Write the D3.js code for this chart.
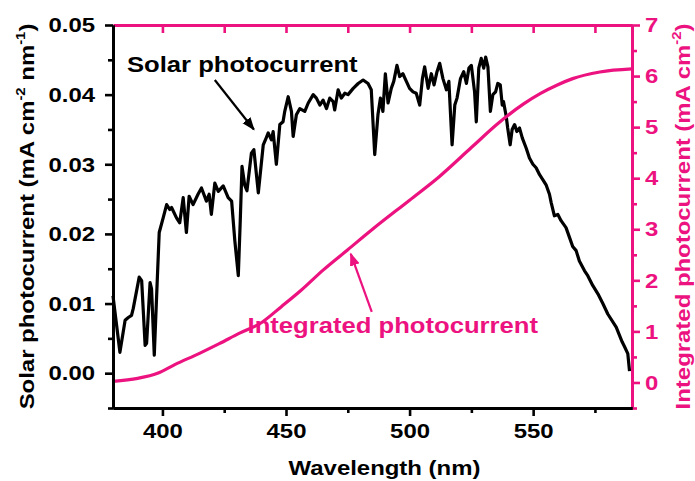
<!DOCTYPE html>
<html>
<head>
<meta charset="utf-8">
<script src="https://cdn.jsdelivr.net/npm/d3@7/dist/d3.min.js"></script>
<style>
  html, body { margin: 0; padding: 0; background: #fff; }
  svg { display: block; font-family: "Liberation Sans", Arial, sans-serif; font-weight: bold; }
</style>
</head>
<body>
<svg id="chart" width="695" height="481"></svg>
<script>
// Solar photocurrent spectrum (mA cm^-2 nm^-1) vs wavelength (nm)
const wavelength = [
  380.0, 382.8, 384.9, 386.2, 387.5, 388.2, 390.6, 391.6, 393.0, 393.6,
  395.0, 395.6, 396.7, 397.9, 398.7, 400.3, 401.7, 403.0, 403.7, 405.7,
  407.0, 408.4, 409.7, 410.8, 412.4, 414.4, 415.8, 417.8, 418.9, 419.8,
  421.2, 422.6, 424.6, 426.6, 428.0, 429.3, 430.7, 431.5, 432.2, 433.3,
  434.2, 436.0, 437.0, 438.8, 440.8, 442.0, 442.8, 444.1, 444.8, 446.1,
  447.5, 448.8, 449.5, 450.9, 452.2, 452.9, 454.2, 455.6, 457.6, 459.0,
  461.0, 462.3, 463.7, 465.0, 466.4, 467.7, 469.1, 469.7, 471.1, 472.4,
  473.8, 475.1, 477.2, 479.2, 481.2, 483.2, 484.5, 485.9, 487.2, 488.2,
  489.2, 490.2, 491.3, 492.6, 493.6, 494.9, 496.0, 497.3, 498.7, 500.0,
  501.4, 502.7, 504.1, 505.2, 506.1, 507.5, 508.8, 509.9, 511.1, 512.2,
  513.5, 514.9, 515.9, 517.2, 518.3, 519.2, 520.6, 521.9, 523.0, 524.0,
  525.0, 526.3, 527.0, 528.0, 529.0, 530.0, 530.8, 531.7, 532.7, 533.7,
  534.8, 535.7, 536.7, 537.5, 538.0, 539.1, 539.7, 540.7, 541.5, 542.5,
  543.4, 544.5, 545.6, 547.2, 548.5, 549.9, 551.2, 552.6, 553.9, 555.3,
  556.6, 557.3, 558.6, 560.0, 561.3, 563.3, 564.7, 566.0, 567.4, 568.7,
  570.8, 572.1, 574.1, 576.2, 578.2, 580.2, 583.6, 586.0, 587.0, 588.3,
  589.0
];
const solarCurrent = [
  0.0111, 0.0030, 0.0076, 0.0080, 0.0083, 0.0093, 0.0138, 0.0133, 0.0040, 0.0043,
  0.0130, 0.0121, 0.0026, 0.0133, 0.0202, 0.0223, 0.0242, 0.0235, 0.0238, 0.0223,
  0.0216, 0.0252, 0.0202, 0.0254, 0.0242, 0.0257, 0.0266, 0.0247, 0.0257, 0.0228,
  0.0273, 0.0261, 0.0269, 0.0252, 0.0247, 0.0190, 0.0140, 0.0220, 0.0297, 0.0270,
  0.0262, 0.0316, 0.0321, 0.0259, 0.0328, 0.0338, 0.0345, 0.0335, 0.0347, 0.0300,
  0.0357, 0.0361, 0.0376, 0.0397, 0.0376, 0.0340, 0.0371, 0.0380, 0.0376, 0.0388,
  0.0400, 0.0395, 0.0385, 0.0392, 0.0380, 0.0395, 0.0390, 0.0378, 0.0407, 0.0395,
  0.0402, 0.0400, 0.0409, 0.0416, 0.0421, 0.0416, 0.0407, 0.0314, 0.0371, 0.0395,
  0.0376, 0.0430, 0.0388, 0.0409, 0.0419, 0.0442, 0.0426, 0.0430, 0.0419, 0.0409,
  0.0404, 0.0402, 0.0385, 0.0423, 0.0440, 0.0409, 0.0430, 0.0414, 0.0433, 0.0445,
  0.0423, 0.0407, 0.0419, 0.0328, 0.0385, 0.0395, 0.0423, 0.0433, 0.0416, 0.0438,
  0.0442, 0.0404, 0.0361, 0.0438, 0.0452, 0.0438, 0.0454, 0.0440, 0.0376, 0.0400,
  0.0404, 0.0416, 0.0414, 0.0385, 0.0390, 0.0369, 0.0352, 0.0328, 0.0350, 0.0357,
  0.0347, 0.0352, 0.0338, 0.0323, 0.0309, 0.0300, 0.0295, 0.0285, 0.0278, 0.0270,
  0.0257, 0.0245, 0.0226, 0.0228, 0.0219, 0.0209, 0.0195, 0.0182, 0.0176, 0.0161,
  0.0147, 0.0140, 0.0126, 0.0114, 0.0100, 0.0085, 0.0066, 0.0045, 0.0038, 0.0028,
  0.0003
];

// Integrated photocurrent (mA cm^-2), right axis
const intWavelength = [380, 390, 398, 405, 415, 423, 431, 440, 448, 456,
                       465, 475, 485, 500, 512, 525, 536, 546, 553, 560,
                       566, 577, 590];
const intCurrent    = [0.02, 0.08, 0.18, 0.35, 0.57, 0.76, 0.96, 1.17, 1.48, 1.80,
                       2.20, 2.60, 3.00, 3.57, 4.03, 4.60, 5.08, 5.45, 5.66, 5.83,
                       5.95, 6.08, 6.14];

// Axis ticks
const xMajor = [400, 450, 500, 550];
const xMinor = [425, 475, 525, 575];
const yMajor = [0, 0.01, 0.02, 0.03, 0.04, 0.05];
const yMinor = [-0.005, 0.005, 0.015, 0.025, 0.035, 0.045];
const y2Major = [0, 1, 2, 3, 4, 5, 6, 7];
const y2Minor = [-0.5, 0.5, 1.5, 2.5, 3.5, 4.5, 5.5, 6.5];

const BLACK = "#000";
const PINK = "#ec127f";
const SX = 1.14;          // horizontal glyph stretch used for all text
const FONT = 21;

const svg = d3.select("#chart");
const plotL = 113, plotR = 632, plotT = 25, plotB = 408;

const x = d3.scaleLinear().domain([380, 590]).range([plotL, plotR]);
const y = d3.scaleLinear().domain([-0.005, 0.05]).range([plotB, plotT]);
const y2 = d3.scaleLinear().domain([-0.5, 7]).range([plotB, plotT]);

function stretchTicks(g) {
  g.selectAll("text").each(function () {
    const t = d3.select(this);
    const tx = +t.attr("x") || 0;
    t.attr("x", tx / SX).attr("transform", `scale(${SX},1)`);
  });
}

function styleAxis(g, color) {
  g.select(".domain").attr("stroke", color).attr("stroke-width", 3);
  g.selectAll(".tick line").attr("stroke", color).attr("stroke-width", 2.6);
  g.selectAll("text").attr("fill", color).attr("font-size", FONT)
    .attr("font-family", '"Liberation Sans", Arial, sans-serif').attr("font-weight", "bold");
}

// Curves
const solarLine = d3.line().x((d, i) => x(wavelength[i])).y(d => y(d));
svg.append("path")
  .datum(solarCurrent)
  .attr("d", solarLine)
  .attr("fill", "none").attr("stroke", BLACK).attr("stroke-width", 3.2)
  .attr("stroke-linejoin", "round");

const intLine = d3.line().curve(d3.curveMonotoneX)
  .x((d, i) => x(intWavelength[i])).y(d => y2(d));
svg.append("path")
  .datum(intCurrent)
  .attr("d", intLine)
  .attr("fill", "none").attr("stroke", PINK).attr("stroke-width", 3.2);

// Top axis (pink, inward ticks)
const gTop = svg.append("g").attr("transform", `translate(0,${plotT})`)
  .call(d3.axisTop(x).tickValues(xMajor.concat(xMinor)).tickSize(-8).tickSizeOuter(0).tickFormat(""));
styleAxis(gTop, PINK);

// Right axis (pink)
const gRightMinor = svg.append("g").attr("transform", `translate(${plotR},0)`)
  .call(d3.axisRight(y2).tickValues(y2Minor).tickSize(5).tickSizeOuter(0).tickFormat(""));
styleAxis(gRightMinor, PINK);
const gRight = svg.append("g").attr("transform", `translate(${plotR},0)`)
  .call(d3.axisRight(y2).tickValues(y2Major).tickSize(8).tickPadding(5).tickSizeOuter(0).tickFormat(d3.format("d")));
styleAxis(gRight, PINK);
stretchTicks(gRight);

// Bottom axis (black)
const gBottomMinor = svg.append("g").attr("transform", `translate(0,${plotB})`)
  .call(d3.axisBottom(x).tickValues(xMinor).tickSize(5).tickSizeOuter(0).tickFormat(""));
styleAxis(gBottomMinor, BLACK);
const gBottom = svg.append("g").attr("transform", `translate(0,${plotB})`)
  .call(d3.axisBottom(x).tickValues(xMajor).tickSize(8).tickPadding(7).tickSizeOuter(0).tickFormat(d3.format("d")));
styleAxis(gBottom, BLACK);
stretchTicks(gBottom);

// Left axis (black)
const gLeftMinor = svg.append("g").attr("transform", `translate(${plotL},0)`)
  .call(d3.axisLeft(y).tickValues(yMinor).tickSize(5).tickSizeOuter(0).tickFormat(""));
styleAxis(gLeftMinor, BLACK);
const gLeft = svg.append("g").attr("transform", `translate(${plotL},0)`)
  .call(d3.axisLeft(y).tickValues(yMajor).tickSize(8).tickPadding(10).tickSizeOuter(0).tickFormat(d3.format(".2f")));
styleAxis(gLeft, BLACK);
stretchTicks(gLeft);

// Stretched text helper
function stretchedText(px, py, rot, color, size, parts) {
  const g = svg.append("g").attr("transform", `translate(${px},${py}) rotate(${rot}) scale(${SX},1)`);
  const t = g.append("text").attr("text-anchor", "middle").attr("fill", color)
    .attr("font-size", size);
  parts.forEach(p => {
    const ts = t.append("tspan").text(p.t);
    if (p.sup) ts.attr("font-size", size * 0.62).attr("dy", -size * 0.42);
    if (p.after) ts.attr("dy", size * 0.42);
  });
  return t;
}

// Axis titles
stretchedText((plotL + plotR) / 2 + 12, 475, 0, BLACK, FONT, [{ t: "Wavelength (nm)" }]);
stretchedText(34, (plotT + plotB) / 2, -90, BLACK, FONT, [
  { t: "Solar photocurrent (mA cm" }, { t: "-2", sup: true },
  { t: " nm", after: true }, { t: "-1", sup: true }, { t: ")", after: true }
]);
stretchedText(690, (plotT + plotB) / 2, -90, PINK, FONT, [
  { t: "Integrated photocurrent (mA cm" }, { t: "-2", sup: true }, { t: ")", after: true }
]);

// Annotations with arrows
const defs = svg.append("defs");
function marker(id, color) {
  defs.append("marker").attr("id", id).attr("viewBox", "0 0 10 10")
    .attr("refX", 9).attr("refY", 5).attr("markerWidth", 6).attr("markerHeight", 6)
    .attr("markerUnits", "strokeWidth").attr("orient", "auto")
    .append("path").attr("d", "M0,1.2 L10,5 L0,8.8 z").attr("fill", color);
}
marker("headBlack", BLACK);
marker("headPink", PINK);

stretchedText(x(432.3), y(0.0433), 0, BLACK, 22.5, [{ t: "Solar photocurrent" }]);
svg.append("line")
  .attr("x1", x(421.2)).attr("y1", y(0.0421))
  .attr("x2", x(437.0)).attr("y2", y(0.0350))
  .attr("stroke", BLACK).attr("stroke-width", 2.2).attr("marker-end", "url(#headBlack)");

stretchedText(x(493.2), y2(0.97), 0, PINK, 22.5, [{ t: "Integrated photocurrent" }]);
svg.append("line")
  .attr("x1", x(484.7)).attr("y1", y2(1.38))
  .attr("x2", x(476.2)).attr("y2", y2(2.52))
  .attr("stroke", PINK).attr("stroke-width", 2.2).attr("marker-end", "url(#headPink)");
</script>
</body>
</html>
